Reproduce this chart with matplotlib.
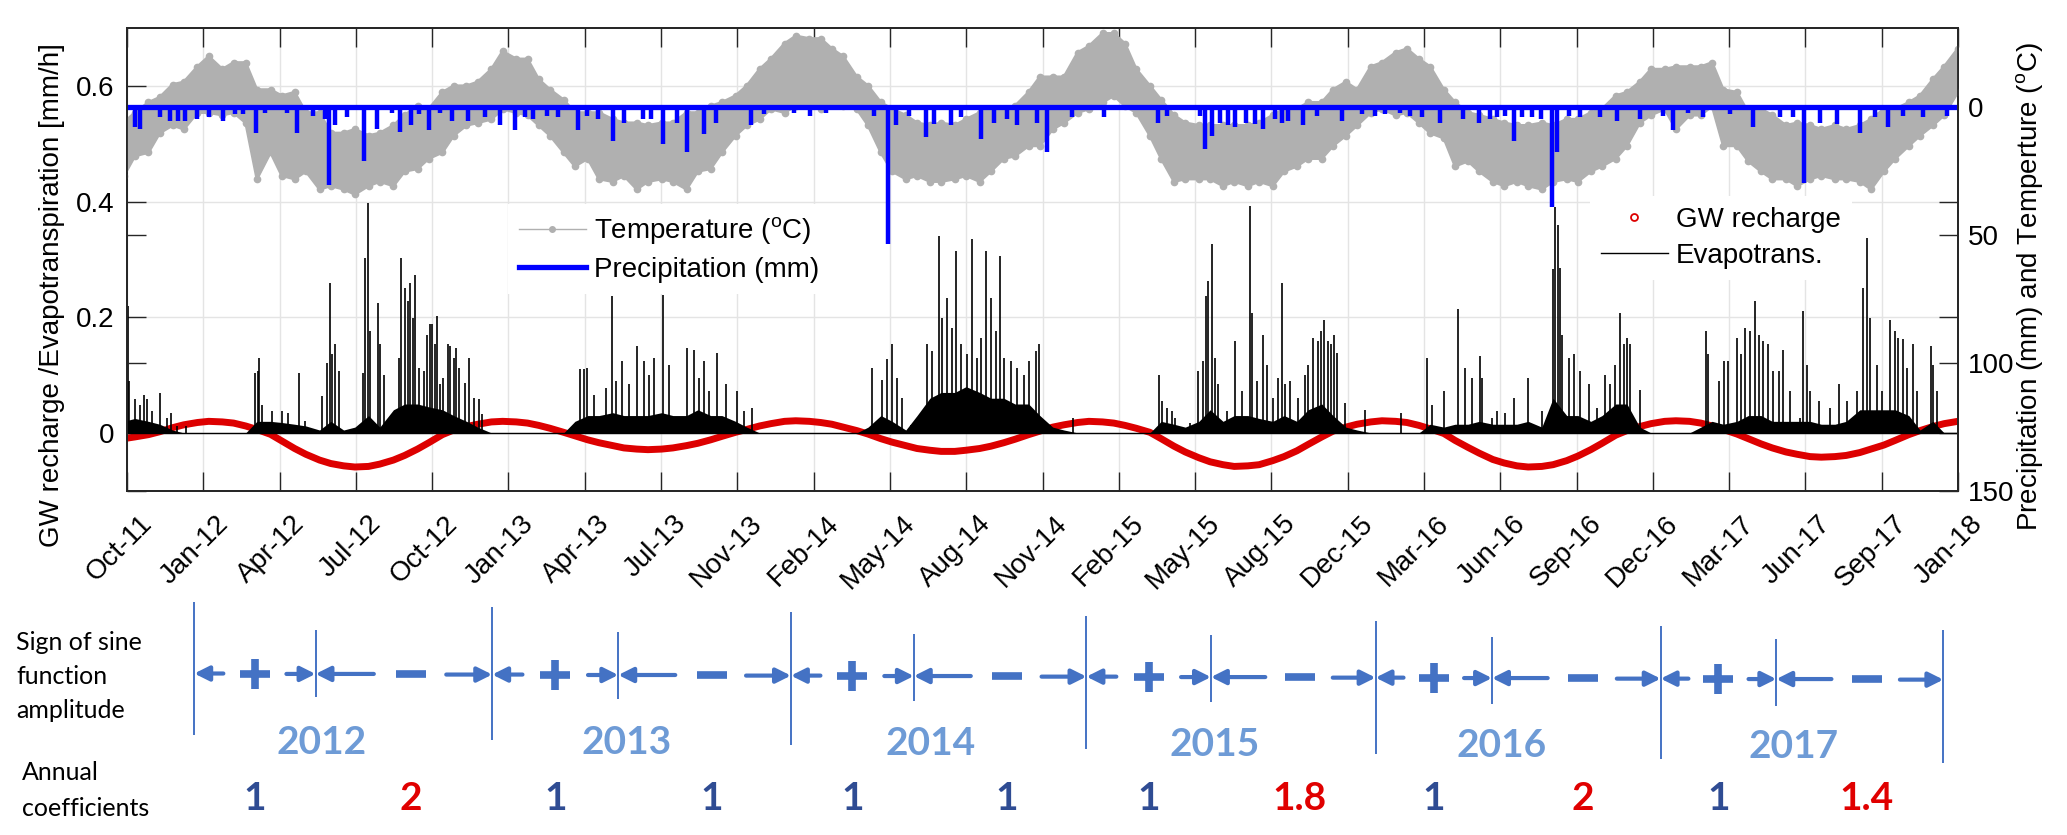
import numpy as np
import pandas as pd
import matplotlib
matplotlib.use('Agg')
import matplotlib.pyplot as plt
import matplotlib.dates as mdates
from matplotlib.lines import Line2D
from matplotlib.transforms import ScaledTranslation

plt.rcParams['font.family'] = ['Liberation Sans', 'DejaVu Sans']
plt.rcParams['mathtext.fontset'] = 'custom'
plt.rcParams['mathtext.rm'] = 'Liberation Sans'

# record start / end (x axis limits)
t_start = pd.Timestamp('2011-10-05 06:00')
t_end = pd.Timestamp('2018-01-01 06:00')

# semi-monthly grid (1st and 15th of each month), Oct-2011 .. Jan-2018
half_month = pd.date_range('2011-10-01', '2018-01-01', freq='SMS')

# temperature band (deg C): lower and upper envelope of the hourly record
temp_lo = [6, 2, -2, -4, -9, -10,
           -16, -20, -15, -17.6, -17.6, -7, -7, -4.6, -6, 2, 2, 10, 10, 8.5, 11, 10, 7, 3, -0.6, 0.6, -6, -8.5, -8.5, -10,
           -15, -22, -19, -19, -11, -7, -3, 2, 2, 2, 4.6, 6, 6, 7, 6, 6, 2, 2, -0.6, -2, -4.6, -8.5, -15, -19,
           -25, -28, -27, -27, -23, -20, -12, -8.5, -2, 0.6, 3, 6, 7, 6, 7, 4.6, 2, 0.6, 0.6, -0.6, -6, -12, -12, -12,
           -21.5, -24, -29, -29, -25, -15, -8.5, -3, 3, 6, 7, 7, 7, 7, 7, 6, 3, 0.6, 0.6, -2, -2, -7, -10, -7,
           -16, -17.6, -21.5, -23, -19, -16, -7, -2, 2, 3, 4.6, 6, 7, 7, 6, 7, 4.6, 4.6, 2, 0.6, -4.6, -6, -10, -15,
           -15, -16, -16, -16, -17.6, -7, -6, 2, 0.6, 3, 7, 6, 7, 8.5, 7, 8.5, 7, 4.6, 0.6, 0.6, -2, -4.6, -11, -16,
           -23]
temp_hi = [27, 19, 17.6, 10, 7, 8.5,
           2, 2, 3, 2, 6, 28, 17.6, 26.7, 28, 25, 32, 30.7, 32, 34, 30.7, 29, 30.7, 25, 24, 20, 17.6, 11, 7, 6,
           4.6, 0.6, 2, 3, 7, 11, 17.6, 23, 20, 28, 29, 26.7, 32, 29, 28, 29, 32, 25, 24, 17.6, 11, 7, 4.6, 0.6,
           2, -0.6, -0.6, 0.6, -2, -0.6, 0.6, 7, 17.6, 25, 28, 26.7, 29, 29, 28, 26.7, 29, 25, 20, 19, 15, 15, 8.5, 6,
           2, 0.6, -2, -4.6, -0.6, 2, 11, 20, 29, 28, 28, 28, 30.7, 29, 30.7, 29, 30.7, 25, 23, 20, 20, 15, 11, 7,
           2, 0.6, 3, 2, 6, 10, 12, 23, 21, 25, 29, 30.7, 29, 30.7, 32, 29, 28, 29, 25, 23, 20, 15, 6, 3,
           0.6, 8.5, 3, 3, -0.6, 15, 15, 21, 25, 28, 28, 30.7, 28, 26.7, 28, 28, 29, 32, 25, 20, 15, 11, 7, 3,
           -6]

# GW recharge (mm/h) on the same semi-monthly grid
gw_recharge = [-0.010, -0.007, -0.003, 0.002, 0.009, 0.014,
               0.018, 0.020, 0.019, 0.017, 0.012, 0.006, -0.0025, -0.014, -0.027, -0.037, -0.047, -0.053,
               -0.057, -0.059, -0.058, -0.054, -0.047, -0.039, -0.028, -0.017, -0.003, 0.005, 0.011, 0.015,
               0.019, 0.020, 0.019, 0.017, 0.013, 0.008, 0.001, -0.005, -0.012, -0.017, -0.022, -0.026,
               -0.028, -0.029, -0.028, -0.026, -0.022, -0.018, -0.012, -0.006, 0.001, 0.006, 0.012, 0.016,
               0.020, 0.021, 0.020, 0.018, 0.015, 0.010, 0.004, -0.002, -0.010, -0.016, -0.022, -0.027,
               -0.030, -0.032, -0.032, -0.030, -0.027, -0.023, -0.017, -0.011, -0.003, 0.003, 0.010, 0.014,
               0.018, 0.020, 0.019, 0.017, 0.013, 0.008, 0.001, -0.010, -0.023, -0.033, -0.043, -0.050,
               -0.055, -0.058, -0.057, -0.055, -0.048, -0.041, -0.031, -0.020, -0.007, 0.003, 0.010, 0.015,
               0.019, 0.021, 0.020, 0.018, 0.013, 0.007, -0.001, -0.013, -0.025, -0.035, -0.046, -0.052,
               -0.057, -0.059, -0.058, -0.055, -0.048, -0.040, -0.029, -0.018, -0.004, 0.004, 0.011, 0.016,
               0.020, 0.021, 0.020, 0.017, 0.012, 0.006, -0.002, -0.010, -0.019, -0.026, -0.033, -0.037,
               -0.041, -0.042, -0.041, -0.039, -0.034, -0.028, -0.021, -0.013, -0.003, 0.004, 0.011, 0.016,
               0.020]

# dense low part of the evapotranspiration record (mm/h), semi-monthly
et_base = [0.02, 0.025, 0.02, 0.015, 0.005, 0,
           0, 0, 0, 0, 0, 0.02, 0.02, 0.018, 0.015, 0.012, 0.005, 0.02, 0.005, 0.01, 0.03, 0.01, 0.04, 0.05, 0.05, 0.045, 0.04, 0.03, 0.02, 0.01,
           0, 0, 0, 0, 0, 0, 0, 0.02, 0.03, 0.03, 0.035, 0.03, 0.03, 0.03, 0.035, 0.03, 0.03, 0.04, 0.03, 0.03, 0.02, 0.01, 0, 0,
           0, 0, 0, 0, 0, 0, 0, 0.01, 0.03, 0.02, 0.005, 0.03, 0.06, 0.07, 0.07, 0.08, 0.07, 0.06, 0.06, 0.05, 0.05, 0.03, 0.01, 0.005,
           0, 0, 0, 0, 0, 0, 0, 0.02, 0.015, 0.01, 0.02, 0.04, 0.02, 0.03, 0.03, 0.025, 0.02, 0.03, 0.02, 0.04, 0.05, 0.03, 0.01, 0.005,
           0, 0, 0, 0, 0, 0.015, 0.01, 0.015, 0.015, 0.02, 0.015, 0.015, 0.015, 0.02, 0.01, 0.06, 0.03, 0.03, 0.02, 0.03, 0.05, 0.05, 0.01, 0,
           0, 0, 0, 0.01, 0.02, 0.015, 0.02, 0.03, 0.03, 0.02, 0.02, 0.02, 0.02, 0.015, 0.015, 0.02, 0.04, 0.04, 0.04, 0.04, 0.03, 0.005, 0.02, 0,
           0]

# evapotranspiration peaks: day since record start, value (mm/h)
et_day = [0.8, 2.9, 10.4, 16.6, 20.7, 24.9, 31.1, 41.5, 49.8, 55.2, 62.2, 73.4,
          159.8, 163.1, 164.7, 168.0, 180.5, 193.0, 201.0, 213.7, 222.0,
          242.7, 249.0, 252.3, 255.2, 259.3, 263.5,
          293.4, 296.7, 299.6, 303.0, 312.0, 315.4, 319.5,
          338.2, 341.5, 346.5, 349.8, 352.7, 355.6, 358.9, 363.0, 369.3, 373.4, 376.8, 379.7, 383.0,
          385.9, 390.0, 393.4, 399.6, 402.5, 406.6, 409.5, 412.9, 421.2, 426.1, 431.5, 437.8, 441.9,
          564.3, 568.5, 573.3, 581.6, 596.1, 604.4, 608.6, 616.9, 625.2, 634.7, 643.9, 650.1, 656.3,
          667.9, 675.0, 685.4, 697.8, 706.1, 712.3, 718.5, 724.8, 735.1, 745.5, 760.0, 768.3, 778.7,
          928.1, 940.5, 946.8, 953.0, 959.2, 965.4, 975.8,
          996.6, 1002.8, 1011.1, 1015.2, 1021.4, 1027.7, 1031.8, 1038.0, 1046.3, 1052.6, 1058.8, 1062.9,
          1069.2, 1075.4, 1081.6, 1087.0, 1092.0, 1100.3, 1108.6, 1116.9, 1123.1, 1131.4, 1135.6, 1149.5, 1178.6,
          1285.2, 1288.5, 1294.8, 1301.0, 1305.1, 1323.8, 1334.2, 1340.4, 1343.7, 1346.6, 1350.8, 1355.0,
          1359.1, 1369.5, 1379.8, 1388.1, 1398.5, 1401.4, 1406.8, 1415.1, 1419.3, 1427.6, 1433.8, 1437.9,
          1442.1, 1448.3, 1458.7, 1467.0, 1471.1, 1477.3, 1482.7, 1486.9, 1491.0, 1495.2, 1499.3, 1503.5,
          1506.4, 1516.8, 1541.7,
          1586.5, 1618.4, 1624.6, 1640.4, 1657.0, 1666.1, 1674.4, 1684.8, 1686.9, 1699.3,
          1705.9, 1716.2, 1727.4, 1744.0, 1761.9, 1775.6, 1778.5, 1781.4, 1783.9, 1786.8, 1795.1, 1801.3,
          1809.6, 1820.0, 1830.3, 1840.7, 1846.9, 1853.2, 1859.4, 1863.5, 1867.7, 1871.8, 1883.4,
          1966.4, 1969.3, 1981.8, 1988.0, 1994.2, 2004.6, 2009.6, 2015.0, 2021.2, 2027.4, 2031.6, 2037.8,
          2044.0, 2050.2, 2056.5, 2062.7, 2071.0, 2083.4, 2087.6, 2091.7, 2095.9, 2106.3, 2120.8, 2131.2,
          2141.5, 2154.0, 2162.3, 2166.4, 2170.6, 2178.9, 2185.1, 2195.5, 2201.7, 2205.9, 2212.1, 2216.2,
          2224.5, 2228.6, 2246.1, 2249.4, 2253.5]
et_val = [0.219, 0.089, 0.058, 0.049, 0.066, 0.058, 0.038, 0.069, 0.026, 0.035, 0.012, 0.012,
          0.104, 0.107, 0.13, 0.049, 0.038, 0.038, 0.035, 0.104, 0.02,
          0.063, 0.121, 0.26, 0.136, 0.153, 0.107,
          0.104, 0.303, 0.398, 0.176, 0.225, 0.153, 0.101,
          0.13, 0.303, 0.251, 0.228, 0.26, 0.199, 0.274, 0.113, 0.107, 0.17, 0.188, 0.188, 0.153,
          0.202, 0.084, 0.095, 0.153, 0.15, 0.13, 0.147, 0.113, 0.087, 0.13, 0.061, 0.058, 0.032,
          0.11, 0.11, 0.113, 0.066, 0.078, 0.237, 0.089, 0.124, 0.084, 0.15, 0.124, 0.101, 0.13,
          0.239, 0.118, 0.026, 0.147, 0.144, 0.095, 0.124, 0.072, 0.138, 0.084, 0.072, 0.038, 0.043,
          0.113, 0.092, 0.127, 0.153, 0.095, 0.061, 0.014,
          0.153, 0.141, 0.34, 0.199, 0.234, 0.182, 0.314, 0.153, 0.136, 0.335, 0.13, 0.164,
          0.314, 0.234, 0.176, 0.306, 0.13, 0.124, 0.113, 0.101, 0.124, 0.141, 0.153, 0.014, 0.026,
          0.101, 0.055, 0.043, 0.038, 0.026, 0.017, 0.107, 0.124, 0.237, 0.263, 0.326, 0.13,
          0.084, 0.038, 0.159, 0.072, 0.392, 0.208, 0.089, 0.17, 0.118, 0.061, 0.095, 0.26,
          0.084, 0.089, 0.061, 0.101, 0.118, 0.164, 0.159, 0.176, 0.196, 0.159, 0.153, 0.17,
          0.138, 0.052, 0.04,
          0.035, 0.13, 0.049, 0.072, 0.214, 0.113, 0.095, 0.133, 0.095, 0.026,
          0.038, 0.035, 0.061, 0.095, 0.038, 0.283, 0.39, 0.36, 0.286, 0.17, 0.13, 0.136,
          0.107, 0.084, 0.043, 0.101, 0.084, 0.118, 0.208, 0.153, 0.164, 0.153, 0.075,
          0.176, 0.136, 0.089, 0.124, 0.124, 0.164, 0.136, 0.182, 0.176, 0.228, 0.17, 0.159,
          0.153, 0.107, 0.107, 0.144, 0.072, 0.026, 0.211, 0.118, 0.072, 0.055, 0.043, 0.084,
          0.055, 0.072, 0.251, 0.338, 0.199, 0.118, 0.072, 0.196, 0.176, 0.164, 0.162, 0.113,
          0.153, 0.072, 0.15, 0.118, 0.072]

# precipitation events: day since record start, depth (mm)
p_day = [9.5, 16.6, 41.5, 54, 64, 72.6, 87, 101.7, 120, 135, 145, 160.6, 172, 199, 212, 232, 247, 252,
         259, 274, 295, 311, 330, 340, 353.5, 363, 376, 390, 404.6, 425, 446, 465, 483, 496, 506, 523,
         537, 562,
         573, 586, 605.7, 619, 642, 652, 667, 685, 697, 718.5, 733, 776.6, 793, 830.6, 851, 870, 930,
         947.6, 957, 973.7, 994.4, 1005, 1025.6, 1038, 1063, 1079.5, 1096, 1108.6, 1133.5,
         1145.4, 1176.5, 1216, 1284, 1295, 1336, 1342.5, 1350.8, 1361, 1371.5, 1380, 1394, 1404.7,
         1415, 1429.6, 1438, 1446, 1465, 1481.6, 1512.7, 1537.6, 1554, 1566.6, 1585, 1597.7, 1612,
         1635, 1664, 1683, 1697,
         1706, 1716, 1726.6, 1737, 1749.4, 1760.6, 1774, 1780.5, 1795, 1809.6, 1834.5, 1855, 1884,
         1913, 1925, 1944, 1963, 1996, 2025, 2058.5, 2075, 2088.5, 2108, 2129, 2158, 2177, 2193,
         2212, 2237, 2266]
p_mm = [7.8, 8.5, 3.9, 5.2, 5.2, 5.2, 4.6, 3.9, 5.2, 2.6, 2.6, 9.8, 2, 2, 10, 3.3, 4.6, 30.4,
        7, 3.9, 21, 8.5, 2, 9.5, 7, 2.6, 9, 2, 5.2, 5.2, 3.9, 7, 8.7, 3.9, 4.6, 3.3,
        3.9, 8.7,
        3.3, 4.6, 13, 5.9, 4.6, 4.6, 14.4, 5.9, 17.6, 10.4, 5.9, 7, 2.6, 2, 3.3, 2.2, 3.3,
        53.5, 7, 3.3, 11.7, 6.5, 7, 3.9, 12.4, 5.9, 4.6, 7, 5.9,
        17.4, 3.9, 3.9, 5.9, 3.3, 3.3, 16.3, 11, 5.9, 7, 7.8, 5.9, 6.5,
        8.5, 4.6, 5.9, 5.2, 7, 3.3, 5.2, 2.6, 3.3, 2.6, 2, 3.3, 3.9,
        5.9, 4.6, 5.9, 4.6,
        3.9, 3.3, 13, 3.9, 3.9, 4.6, 39, 17.6, 3.3, 3.9, 3.9, 5.2, 4.6,
        3.3, 9, 2, 3.9, 2.6, 7.8, 3.9, 3.9, 29.4, 5.9, 6.5, 9.8, 3.9, 7.8,
        3.3, 3.9, 3.3]

# schematic below the chart: years, sign changes and annual coefficients
note_years = ['2012', '2013', '2014', '2015', '2016', '2017']
note_year_start = ['2011-12-28', '2013-01-02', '2014-01-09', '2015-01-12', '2016-01-07', '2016-12-27', '2017-12-14']
note_sign_switch = ['2012-05-27', '2013-06-08', '2014-06-11', '2015-06-16', '2016-05-31', '2017-05-20']
note_year_label_at = ['2012-06-04', '2013-06-18', '2014-07-02', '2015-06-21', '2016-06-12', '2017-06-11']
coef_plus = [1, 1, 1, 1, 1, 1]
coef_minus = [2, 1, 1, 1.8, 2, 1.4]

# ---------------------------------------------------------------------------
W, H = 2067, 835
fig = plt.figure(figsize=(W / 100, H / 100), dpi=100)
ax_l, ax_r, ax_t, ax_b = 127, 1958, 28.3, 490.7
ax = fig.add_axes([ax_l / W, 1 - ax_b / H, (ax_r - ax_l) / W, (ax_b - ax_t) / H])
ax2 = ax.twinx()

et_dates = t_start + pd.to_timedelta(et_day, unit='D')
p_dates = t_start + pd.to_timedelta(p_day, unit='D')

red = '#dd0000'
ax.plot(half_month, gw_recharge, color=red, lw=5, solid_capstyle='round', zorder=2)
ax.axhline(0, color='black', lw=1.0, zorder=2.5)
ax.fill_between(half_month, 0, et_base, color='black', lw=0, zorder=3)
ax.vlines(et_dates, 0, et_val, color='black', lw=1.2, zorder=3)

ax.set_ylim(-0.1, 0.7)
ax.set_yticks([0, 0.2, 0.4, 0.6])
ax.set_yticklabels(['0', '0.2', '0.4', '0.6'])
ax.set_xlim(t_start, t_end)
xticks = np.linspace(mdates.date2num(t_start), mdates.date2num(t_end), 25)
ax.set_xticks(xticks)
ax.xaxis.set_major_formatter(mdates.DateFormatter('%b-%y'))
ax.grid(True, color='#e4e4e4', lw=1.0)
ax.set_axisbelow(True)

gray = '#b0b0b0'
blue = '#0000ff'
ax2.fill_between(half_month, temp_lo, temp_hi, color=gray, lw=0)
ax2.plot(half_month, temp_lo, '.-', color=gray, lw=2, ms=9)
ax2.plot(half_month, temp_hi, '.-', color=gray, lw=2, ms=9)
ax2.hlines(0, t_start, t_end, color=blue, lw=3.8)
ax2.vlines(p_dates, 0, p_mm, color=blue, lw=3.2)
ax2.set_ylim(150, -31)
ax2.set_yticks([0, 50, 100, 150])
ax2.set_xlim(t_start, t_end)

spine_c = '#262626'
for a in (ax, ax2):
    for s in a.spines.values():
        s.set_color(spine_c)
        s.set_linewidth(1.3)
ax.tick_params(axis='both', direction='in', length=13.5, width=1, color=spine_c,
               labelsize=20, top=True, right=True, labelright=False)
ax.tick_params(axis='y', pad=9)
ax.tick_params(axis='x', pad=21)
ax2.tick_params(axis='y', direction='in', length=13.5, width=1, color=spine_c,
                labelsize=20, left=True, labelleft=False, right=True, labelright=True, pad=7)

shift = ScaledTranslation(0.21, 0, fig.dpi_scale_trans)
for lab in ax.get_xticklabels():
    lab.set_rotation(45)
    lab.set_horizontalalignment('right')
    lab.set_verticalalignment('center')
    lab.set_rotation_mode('anchor')
    lab.set_transform(lab.get_transform() + shift)

ax.set_ylabel('GW recharge /Evapotranspiration [mm/h]', fontsize=20, va='center')
ax.yaxis.set_label_coords((52 - ax_l) / (ax_r - ax_l), 1 - (295 - ax_t) / (ax_b - ax_t))
ax2.set_ylabel(r'Precipitation (mm) and Temperture ($^{\rm o}$C)', fontsize=20, va='center')
ax2.yaxis.set_label_coords((2030 - ax_l) / (ax_r - ax_l), 1 - (287 - ax_t) / (ax_b - ax_t))

leg_kw = dict(fontsize=20, frameon=True, fancybox=False, edgecolor='none', facecolor='white',
              framealpha=1, handlelength=2.4, handletextpad=0.3, borderpad=0.4,
              labelspacing=0.35, borderaxespad=0, loc='upper left')
h_temp = Line2D([], [], color=gray, lw=1, marker='.', ms=8)
h_prec = Line2D([], [], color=blue, lw=3.8)
leg1 = ax2.legend([h_temp, h_prec], [r'Temperature ($^{\rm o}$C)', 'Precipitation (mm)'],
                  bbox_to_anchor=((508 - ax_l) / (ax_r - ax_l), 1 - (204 - ax_t) / (ax_b - ax_t)), **leg_kw)
ax2.add_artist(leg1)
h_gw = Line2D([], [], color=red, lw=0, marker='o', mfc='none', mec=red, ms=5, mew=1.3)
h_et = Line2D([], [], color='black', lw=1)
ax2.legend([h_gw, h_et], ['GW recharge', 'Evapotrans.'],
           bbox_to_anchor=((1590 - ax_l) / (ax_r - ax_l), 1 - (196 - ax_t) / (ax_b - ax_t)), **leg_kw)

# ---------------------------------------------------------------------------
# schematic of the sine sign and annual coefficients
axn = fig.add_axes([ax_l / W, 0, (ax_r - ax_l) / W, 245 / H])
axn.set_xlim(t_start, t_end)
axn.set_ylim(H, H - 245)
axn.axis('off')

x0, x1 = mdates.date2num(t_start), mdates.date2num(t_end)


def px(d):
    return ax_l + (ax_r - ax_l) * (d - x0) / (x1 - x0)


def row_y(d):
    return 673.5 + 0.0035 * (px(d) - 191)


line_c = '#4472c4'
year_c = '#6e9bd6'
one_c = '#2f4c93'
coef_red = '#e00000'

ys = mdates.date2num(pd.to_datetime(note_year_start))
sw = mdates.date2num(pd.to_datetime(note_sign_switch))
yl = mdates.date2num(pd.to_datetime(note_year_label_at))

for d in ys:
    top = 602 + 0.016 * (px(d) - 191)
    axn.vlines(d, top, top + 133, color=line_c, lw=1.4)
for d in sw:
    top = 630 + 0.006 * (px(d) - 312)
    axn.vlines(d, top, top + 67, color=line_c, lw=1.4)


def arrow(xa, xb):
    y = row_y(xb)
    axn.annotate('', xy=(xb, y), xytext=(xa, y),
                 arrowprops=dict(arrowstyle='-|>', color=line_c, lw=3, mutation_scale=22,
                                 shrinkA=0, shrinkB=0))


num_kw = dict(fontsize=28, fontweight='bold', family='Lato', ha='center', va='center')
for i in range(len(note_years)):
    L, S, N = ys[i], sw[i], ys[i + 1]
    # positive part of the sine
    arrow(L + 0.24 * (S - L), L)
    arrow(L + 0.76 * (S - L), S)
    xp = L + 0.5 * (S - L)
    axn.plot(xp, row_y(xp), marker='+', ms=22, mew=5.5, color=line_c)
    # negative part of the sine
    arrow(S + 0.33 * (N - S), S)
    arrow(S + 0.74 * (N - S), N)
    xm = S + 0.54 * (N - S)
    axn.plot(xm, row_y(xm), marker='_', ms=22, mew=5.5, color=line_c)
    # year and coefficients
    axn.text(yl[i], 742 + 0.003 * (px(yl[i]) - 319), note_years[i], color=year_c, **num_kw)
    for xc, c in ((xp, coef_plus[i]), (xm, coef_minus[i])):
        axn.text(xc, 798, f'{c:g}', color=one_c if c == 1 else coef_red, **num_kw)

lab_kw = dict(fontsize=18, family='Lato', va='center', ha='left')
for txt, y in (('Sign of sine', 643), ('function', 677), ('amplitude', 710)):
    fig.text(16 / W, 1 - y / H, txt, **lab_kw)
for txt, y in (('Annual', 773), ('coefficients', 808)):
    fig.text(22 / W, 1 - y / H, txt, **lab_kw)

fig.savefig('out.png', dpi=100)
